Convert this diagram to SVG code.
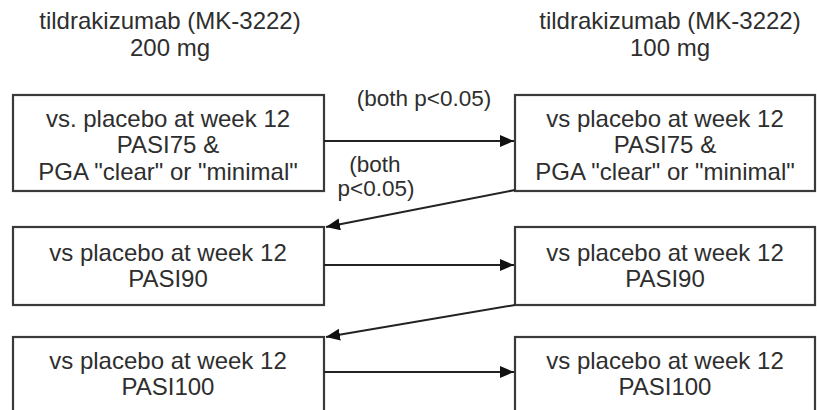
<svg xmlns="http://www.w3.org/2000/svg" width="817" height="410" viewBox="0 0 817 410">
<defs>
<style>
text{font-family:"Liberation Sans",Arial,sans-serif;font-size:24px;fill:#2e2e2e;text-anchor:middle}
.lbl{font-size:22.5px}
.box{fill:#fff;stroke:#3a3a3a;stroke-width:2.2}
.conn{fill:none;stroke:#222;stroke-width:2;marker-end:url(#ah)}
</style>
<marker id="ah" viewBox="0 0 14 12" refX="14" refY="6" markerWidth="14" markerHeight="12" markerUnits="userSpaceOnUse" orient="auto">
<path d="M0,0 L14,6 L0,12 Z" fill="#111"/>
</marker>
</defs>
<rect width="817" height="410" fill="#fff"/>
<g id="header-200">
<text x="170" y="29">tildrakizumab (MK-3222)</text>
<text x="170" y="56">200 mg</text>
</g>
<g id="header-100">
<text x="670" y="29">tildrakizumab (MK-3222)</text>
<text x="670" y="56">100 mg</text>
</g>
<g id="n200-pasi75">
<rect class="box" x="13" y="95" width="311" height="96"/>
<text x="168" y="127">vs. placebo at week 12</text>
<text x="168" y="153">PASI75 &amp;</text>
<text x="168" y="180">PGA "clear" or "minimal"</text>
</g>
<g id="n100-pasi75">
<rect class="box" x="515" y="95" width="300" height="96"/>
<text x="665" y="127">vs placebo at week 12</text>
<text x="665" y="153">PASI75 &amp;</text>
<text x="665" y="180">PGA "clear" or "minimal"</text>
</g>
<g id="n200-pasi90">
<rect class="box" x="13" y="227" width="311" height="78"/>
<text x="168" y="261">vs placebo at week 12</text>
<text x="168" y="287">PASI90</text>
</g>
<g id="n100-pasi90">
<rect class="box" x="515" y="227" width="300" height="78"/>
<text x="665" y="261">vs placebo at week 12</text>
<text x="665" y="287">PASI90</text>
</g>
<g id="n200-pasi100">
<rect class="box" x="13" y="337" width="311" height="80"/>
<text x="168" y="369">vs placebo at week 12</text>
<text x="168" y="395">PASI100</text>
</g>
<g id="n100-pasi100">
<rect class="box" x="515" y="337" width="300" height="80"/>
<text x="665" y="369">vs placebo at week 12</text>
<text x="665" y="395">PASI100</text>
</g>
<g id="connectors">
<line class="conn" x1="324" y1="141" x2="514" y2="141"/>
<line class="conn" x1="515" y1="190" x2="326" y2="227"/>
<line class="conn" x1="324" y1="265" x2="514" y2="265"/>
<line class="conn" x1="515" y1="305" x2="326" y2="337"/>
<line class="conn" x1="324" y1="372" x2="514" y2="372"/>
<text class="lbl" x="424" y="106">(both p&lt;0.05)</text>
<text class="lbl" x="375" y="172">(both</text>
<text class="lbl" x="376" y="196">p&lt;0.05)</text>
</g>
</svg>
